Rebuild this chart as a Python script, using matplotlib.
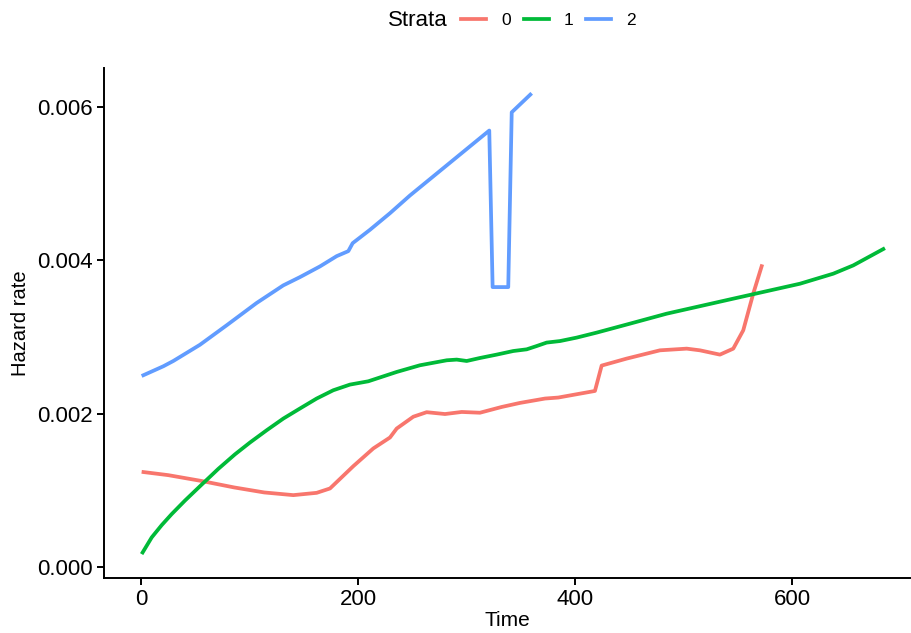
import matplotlib
matplotlib.use("Agg")
import matplotlib.pyplot as plt
from matplotlib.lines import Line2D

plt.rcParams['font.family'] = ['Liberation Sans', 'DejaVu Sans']

# Strata 0
t0 = [0.6, 25.0, 55.3, 86.0, 113.6, 140.4, 161.9, 174.2, 195.7, 214.1, 229.5, 235.7,
      251.0, 263.3, 280.2, 295.6, 312.4, 332.4, 349.3, 372.4, 384.6, 418.4, 424.6,
      447.6, 478.3, 503.0, 515.2, 533.6, 545.9, 555.1, 564.3, 572.6]
h0 = [0.001242, 0.001199, 0.001124, 0.001038, 0.000973, 0.000938, 0.000968, 0.001025,
      0.001316, 0.001547, 0.001690, 0.001807, 0.001961, 0.002020, 0.001996, 0.002023,
      0.002013, 0.002088, 0.002141, 0.002198, 0.002211, 0.002297, 0.002628, 0.002719,
      0.002827, 0.002849, 0.002827, 0.002771, 0.002849, 0.003088, 0.003566, 0.003948]

# Strata 1
t1 = [0.6, 9.9, 19.1, 28.3, 40.6, 55.9, 71.2, 86.6, 100.5, 115.9, 131.2, 146.5, 161.9,
      177.2, 192.6, 209.5, 235.7, 257.1, 281.8, 291.0, 300.2, 312.4, 327.8, 343.1,
      355.5, 364.7, 373.9, 386.2, 401.6, 420.0, 450.7, 484.5, 545.9, 607.4, 638.1,
      656.5, 685.7]
h1 = [0.000169, 0.000387, 0.000547, 0.000691, 0.000868, 0.001075, 0.001280, 0.001470,
      0.001625, 0.001785, 0.001937, 0.002068, 0.002198, 0.002306, 0.002380, 0.002423,
      0.002545, 0.002632, 0.002697, 0.002706, 0.002688, 0.002727, 0.002771, 0.002818,
      0.002840, 0.002883, 0.002928, 0.002948, 0.002993, 0.003058, 0.003175, 0.003305,
      0.003501, 0.003696, 0.003827, 0.003935, 0.004160]

# Strata 2
t2 = [0.6, 20.6, 29.8, 54.3, 78.9, 106.5, 131.1, 146.5, 165.0, 180.4, 191.1, 195.1,
      211.1, 229.5, 247.9, 321.0, 324.1, 338.5, 341.7, 360.1]
h2 = [0.002492, 0.002619, 0.002688, 0.002899, 0.003153, 0.003444, 0.003674, 0.003782,
      0.003922, 0.004056, 0.004121, 0.004225, 0.004400, 0.004616, 0.004847, 0.005694,
      0.003652, 0.003652, 0.005932, 0.006180]

strata = ['0', '1', '2']
colors = ['#F8766D', '#00BA38', '#619CFF']
xticks = [0, 200, 400, 600]
yticks = [0.000, 0.002, 0.004, 0.006]
ytick_labels = ['0.000', '0.002', '0.004', '0.006']

W, H = 912, 633
fig = plt.figure(figsize=(W / 100, H / 100), dpi=100)
ax = fig.add_axes([104 / W, (H - 578) / H, (910 - 104) / W, (578 - 68) / H])

for t, h, c in zip([t0, t1, t2], [h0, h1, h2], colors):
    ax.plot(t, h, color=c, lw=2.7, solid_joinstyle='round', solid_capstyle='butt')

ax.set_xlim(-34.1, 708.8)
ax.set_ylim(-0.000143, 0.00651)
ax.set_xticks(xticks)
ax.set_yticks(yticks)
ax.set_yticklabels(ytick_labels)
for s in ['top', 'right']:
    ax.spines[s].set_visible(False)
for s in ['left', 'bottom']:
    ax.spines[s].set_linewidth(1.4)
ax.tick_params(axis='both', length=5, width=1.4, labelsize=16, colors='black', pad=3)
ax.set_xlabel('Time', fontsize=15, labelpad=1)
ax.set_ylabel('Hazard rate', fontsize=14.5, labelpad=5)

fig.text(388 / W, 1 - 20 / H, 'Strata', fontsize=16, ha='left', va='center')
handles = [Line2D([0], [0], color=c, lw=2.7) for c in colors]
fig.legend(handles, strata, loc='center left', bbox_to_anchor=(461 / W, 1 - 20 / H),
           ncol=3, frameon=False, fontsize=12.5, handlelength=1.45, handletextpad=0.85,
           columnspacing=0.75, borderaxespad=0, borderpad=0)

fig.savefig('out.png', dpi=100)
